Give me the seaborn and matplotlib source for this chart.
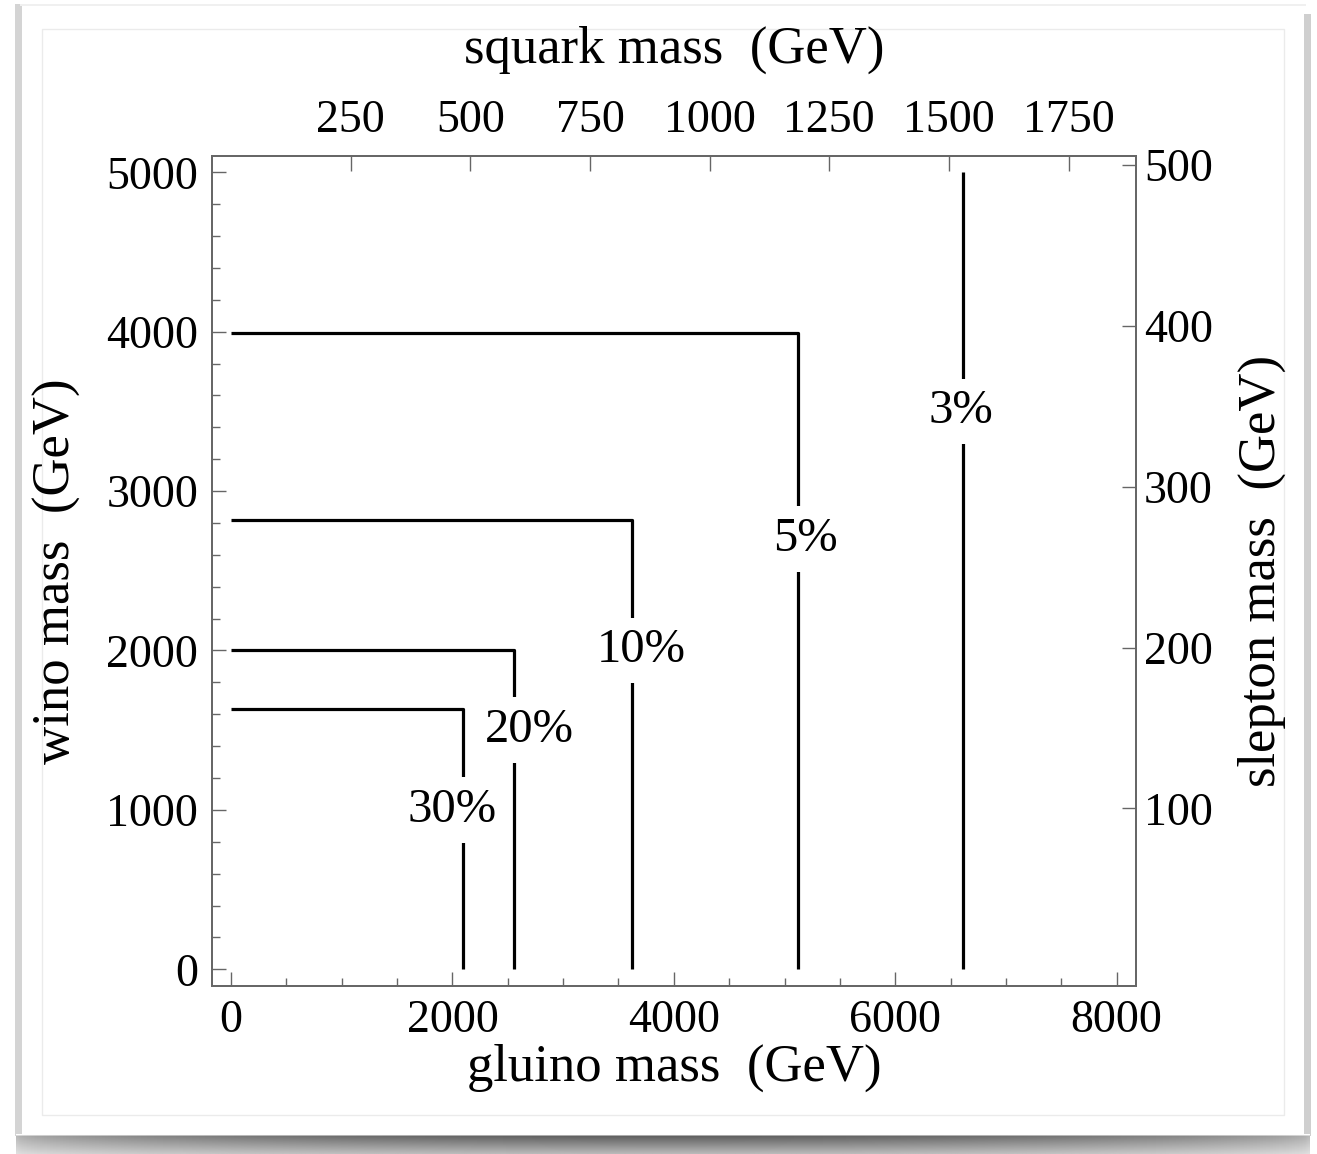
import numpy as np
import pandas as pd
import matplotlib
matplotlib.use("Agg")
import matplotlib.pyplot as plt
from matplotlib.patches import Rectangle
from matplotlib.ticker import MultipleLocator, FixedLocator, NullLocator
import seaborn as sns

# ---------------- data ----------------
levels = ["30%", "20%", "10%", "5%", "3%"]
gluino_edge = [2093, 2559, 3620, 5125, 6610]        # vertical part (GeV)
wino_edge = [1630, 2000, 2820, 3990, np.nan]        # horizontal part (GeV); nan = above plot
wino_top = 5000
label_gluino = [1996, 2692, 3704, 5192, 6590]
label_wino = [1000, 1500, 2000, 2700, 3500]

gluino_ticks = [0, 2000, 4000, 6000, 8000]
wino_ticks = [0, 1000, 2000, 3000, 4000, 5000]
squark_ticks = [250, 500, 750, 1000, 1250, 1500, 1750]
slepton_ticks = [100, 200, 300, 400, 500]
squark_per_gluino = 0.2313
slepton_per_wino = 0.0991

rows = []
for lev, g, w in zip(levels, gluino_edge, wino_edge):
    if np.isnan(w):
        pts = [(g, wino_top), (g, 0)]
    else:
        pts = [(0, w), (g, w), (g, 0)]
    for i, (x, y) in enumerate(pts):
        rows.append(dict(level=lev, order=i, gluino=x, wino=y))
df = pd.DataFrame(rows)

# ---------------- style ----------------
sns.set_theme(style="ticks")
plt.rcParams['font.family'] = ['Liberation Serif', 'DejaVu Serif']
plt.rcParams['xtick.minor.visible'] = False
plt.rcParams['ytick.minor.visible'] = False

W, H = 1317, 1154
fig = plt.figure(figsize=(W / 100, H / 100), dpi=100)
fig.patch.set_facecolor("white")

# decorative paper frame with shadow
def px_rect(x0, y0, x1, y1, **kw):
    r = Rectangle((x0 / W, 1 - y1 / H), (x1 - x0) / W, (y1 - y0) / H,
                  transform=fig.transFigure, **kw)
    fig.add_artist(r)
    return r

px_rect(15, 4, 22, 1136, facecolor="#d4d4d4", edgecolor="none", zorder=0)
px_rect(1304, 14, 1311, 1136, facecolor="#cfcfcf", edgecolor="none", zorder=0)
px_rect(20, 4, 1306, 6, facecolor="#f0f0f0", edgecolor="none", zorder=0)
px_rect(42, 29, 1284, 1115, facecolor="none", edgecolor="#ebebeb", lw=1.0, zorder=0)

# bottom gradient shadow
sh_ax = fig.add_axes([16 / W, 1 - 1154 / H, (1310 - 16) / W, (1154 - 1134) / H])
vy = np.linspace(0, 1, 20)
vert = np.clip(np.where(vy < 0.1, vy / 0.1, 1 - 0.55 * (vy - 0.1) / 0.9), 0, 1)
hx = np.linspace(0, 1, 400)
horiz = 0.45 + 0.55 * np.sin(np.pi * hx) ** 0.5
dark = 0.62 * vert[:, None] * horiz[None, :]
sh_ax.imshow(1 - dark, cmap="gray", vmin=0, vmax=1, aspect="auto",
             interpolation="bilinear")
sh_ax.set_axis_off()

# ---------------- main axes ----------------
ax = fig.add_axes([212 / W, 1 - 986 / H, (1135.7 - 212) / W, (986 - 155.7) / H])
sns.lineplot(data=df, x="gluino", y="wino", units="level", estimator=None,
             sort=False, color="black", lw=2.3, ax=ax, legend=False,
             solid_joinstyle="round", solid_capstyle="butt")

xlim = (-172, 8172)
ylim = (-105, 5104)
ax.set_xlim(*xlim)
ax.set_ylim(*ylim)

frame_col = "#666666"
for sp in ax.spines.values():
    sp.set_color(frame_col)
    sp.set_linewidth(1.1)
    sp.set_visible(True)

fs_tick = 33
fs_lab = 38
ax.xaxis.set_major_locator(FixedLocator(gluino_ticks))
ax.xaxis.set_minor_locator(MultipleLocator(500))
ax.yaxis.set_major_locator(FixedLocator(wino_ticks))
ax.yaxis.set_minor_locator(MultipleLocator(200))
ax.tick_params(which="both", direction="in", color=frame_col, width=1.0,
               labelsize=fs_tick, labelcolor="black", top=False, right=False)
ax.tick_params(which="major", length=10, pad=10)
ax.tick_params(which="minor", length=6)
ax.set_xlabel("gluino mass  (GeV)", fontsize=fs_lab, labelpad=1, color="black")
ax.set_ylabel("wino mass  (GeV)", fontsize=fs_lab, labelpad=18, color="black")

for lev, gx, wy in zip(levels, label_gluino, label_wino):
    ax.text(gx, wy, lev, fontsize=35, ha="center", va="center", color="black",
            bbox=dict(boxstyle="square,pad=0.22", facecolor="white", edgecolor="none"),
            zorder=5)

# top axis: squark mass
axt = ax.twiny()
axt.set_xlim(xlim[0] * squark_per_gluino, xlim[1] * squark_per_gluino)
axt.xaxis.set_major_locator(FixedLocator(squark_ticks))
axt.xaxis.set_minor_locator(NullLocator())
axt.tick_params(axis="x", which="major", direction="in", length=11, width=1.0,
                color=frame_col, labelsize=fs_tick, pad=10, labelcolor="black",
                top=True, bottom=False, labeltop=True, labelbottom=False)
axt.tick_params(axis="y", which="both", left=False, right=False,
                labelleft=False, labelright=False)
axt.set_xlabel("squark mass  (GeV)", fontsize=fs_lab, labelpad=26, color="black")
for sp in axt.spines.values():
    sp.set_color(frame_col)
    sp.set_linewidth(1.1)

# right axis: slepton mass
axr = ax.twinx()
axr.set_ylim(ylim[0] * slepton_per_wino, ylim[1] * slepton_per_wino)
axr.yaxis.set_major_locator(FixedLocator(slepton_ticks))
axr.yaxis.set_minor_locator(NullLocator())
axr.tick_params(axis="y", which="major", direction="in", length=10, width=1.0,
                color=frame_col, labelsize=fs_tick, pad=6, labelcolor="black",
                right=True, left=False, labelright=True, labelleft=False)
axr.tick_params(axis="x", which="both", top=False, bottom=False,
                labeltop=False, labelbottom=False)
axr.set_ylabel("slepton mass  (GeV)", fontsize=fs_lab, labelpad=18, color="black")
for sp in axr.spines.values():
    sp.set_color(frame_col)
    sp.set_linewidth(1.1)

fig.savefig("out.png", dpi=100, facecolor="white")
